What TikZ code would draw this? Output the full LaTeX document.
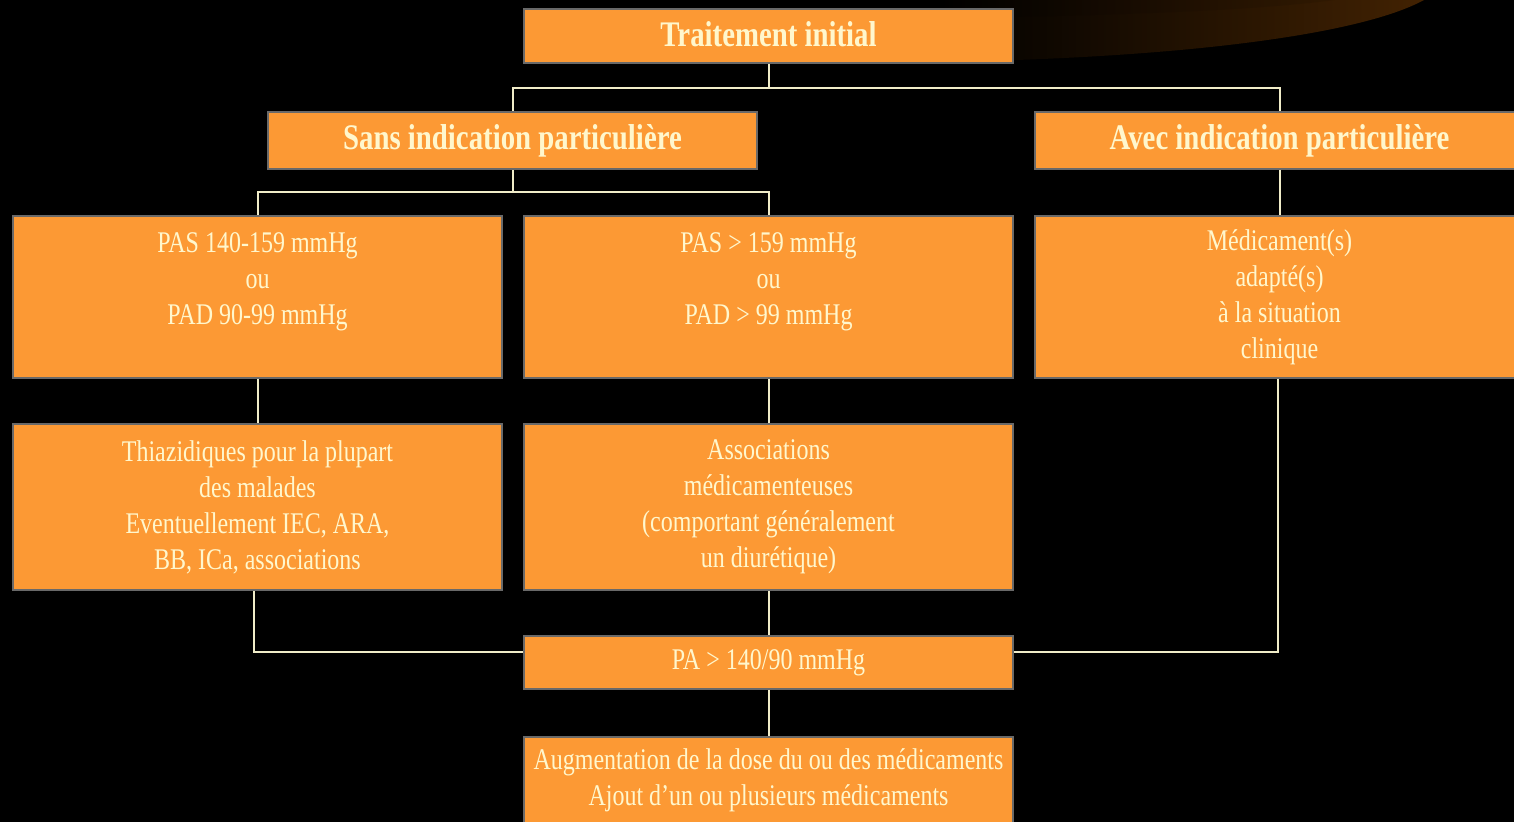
\documentclass[tikz,border=0pt]{standalone}
\usepackage{fontspec}
\setmainfont[FakeStretch=0.8]{Liberation Serif}
\definecolor{boxfill}{RGB}{252,153,52}
\definecolor{boxline}{RGB}{105,105,105}
\definecolor{txt}{RGB}{255,247,205}
\definecolor{wire}{RGB}{240,236,200}
\definecolor{arcbrown}{RGB}{66,34,2}
\tikzset{
  box/.style={draw=boxline, line width=1.3pt, fill=boxfill, text=txt, inner sep=0pt,
    align=center, minimum width=244.5pt, font=\fontsize{15}{18}\selectfont},
  titlebox/.style={box, font=\fontsize{18}{22}\selectfont\bfseries},
  wireline/.style={draw=wire, line width=1pt}
}
\begin{document}
\begin{tikzpicture}[x=0.5pt, y=-0.5pt]
\useasboundingbox (0,0) rectangle (1514,822);
\fill[black] (0,0) rectangle (1514,822);
\clip (0,0) rectangle (1514,822);
% background arc
\shade[left color=black, right color=arcbrown]
  (940,0) -- (940,62) .. controls (1180,58) and (1360,35) .. (1424,0) -- cycle;
\shade[left color=black, right color=arcbrown!70!black, opacity=0.6]
  (940,0) -- (940,18) .. controls (1120,16) and (1260,10) .. (1335,0) -- cycle;
% boxes
\node[titlebox, minimum height=27pt] (init) at (768.5,36) {\raisebox{1.5pt}{Traitement initial}};
\node[titlebox, minimum height=28.5pt] (sans) at (512.5,140.5) {Sans indication particulière};
\node[titlebox, minimum height=28.5pt] (avec) at (1279.5,140.5) {Avec indication particulière};
\node[box, minimum height=81pt] (pas1) at (257.5,297) {PAS 140-159 mmHg\\ou\\PAD 90-99 mmHg\\[-5pt]\strut};
\node[box, minimum height=81pt] (pas2) at (768.5,297) {PAS > 159 mmHg\\ou\\PAD > 99 mmHg\\[-5pt]\strut};
\node[box, minimum height=81pt] (medi) at (1279.5,297) {Médicament(s)\\adapté(s)\\à la situation\\clinique};
\node[box, minimum height=83pt] (thia) at (257.5,507) {Thiazidiques pour la plupart\\des malades\\Eventuellement IEC, ARA,\\BB, ICa, associations};
\node[box, minimum height=83pt] (asso) at (768.5,507) {Associations\\médicamenteuses\\(comportant généralement\\un diurétique)};
\node[box, minimum height=26.5pt] (pa) at (768.5,662.5) {PA > 140/90 mmHg};
\node[box, minimum height=43pt] (aug) at (768.5,780) {Augmentation de la dose du ou des médicaments\\Ajout d'un ou plusieurs médicaments};
% connectors
\coordinate (b1) at (768.5,88);
\coordinate (b2) at (512.5,192);
\draw[wireline] (init.south) -- (b1);
\draw[wireline] (sans.north) |- (b1) -| (avec.north);
\draw[wireline] (sans.south) -- (b2);
\draw[wireline] (pas1.north) |- (b2) -| (pas2.north);
\draw[wireline] (pas1) -- (thia);
\draw[wireline] (pas2) -- (asso);
\draw[wireline] (avec) -- (medi);
\draw[wireline] (asso) -- (pa);
\draw[wireline] (pa) -- (aug);
\draw[wireline] ([xshift=-2pt]thia.south) |- ([yshift=5pt]pa.west);
\draw[wireline] ([xshift=-1pt]medi.south) |- ([yshift=5pt]pa.east);
\end{tikzpicture}
\end{document}
